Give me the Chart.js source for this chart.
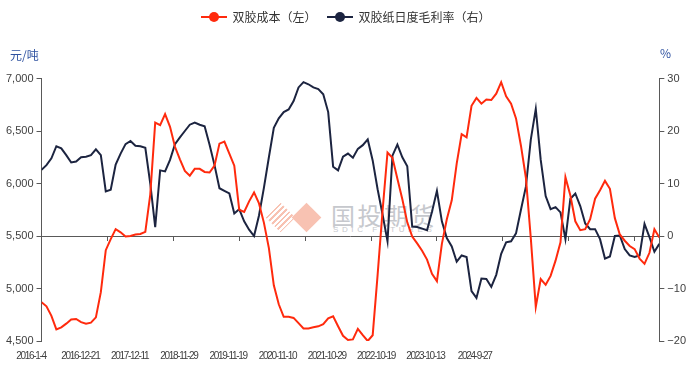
<!DOCTYPE html>
<html>
<head>
<meta charset="utf-8">
<script src="https://cdn.jsdelivr.net/npm/chart.js@4.4.1/dist/chart.umd.min.js"></script>
<style>
  html, body { margin: 0; padding: 0; background: #fff; }
  #wrap { position: relative; width: 695px; height: 369px; overflow: hidden; }
  #chart { position: absolute; left: 0; top: 0; }
  .unit { position: absolute; font: 12px "Noto Sans CJK SC", sans-serif; color: #2f52a0; }
  .wm { position: absolute; }
  .wm-stripe { left: 266px; top: 203px; width: 30px; height: 30px; }
  .wm-stripe i { position: absolute; left: 0; top: 0; width: 21px; height: 21px; transform: translate(4px, 4px) rotate(45deg);
    background: repeating-linear-gradient(90deg, #f8c2b2 0 2px, transparent 2px 4px); }
  .wm-dia { left: 292px; top: 203px; width: 30px; height: 30px; }
  .wm-dia i { position: absolute; left: 0; top: 0; width: 21px; height: 21px; transform: translate(4px, 4px) rotate(45deg); background: #f8c2b2; }
  .wm-cn { left: 331px; top: 197px; font: 24px "Noto Sans CJK SC", sans-serif; letter-spacing: 2.5px; color: #c6c8cd; }
  .wm-en { left: 333px; top: 225px; font: 8px "Liberation Sans", sans-serif; letter-spacing: 3.6px; color: #c6c8cd; }
</style>
</head>
<body>
<div id="wrap">
  <div class="wm wm-stripe"><i></i></div>
  <div class="wm wm-dia"><i></i></div>
  <div class="wm wm-cn">国投期货</div>
  <div class="wm wm-en">SDIC FUTURES</div>
  <canvas id="chart" width="695" height="369"></canvas>
  <div class="unit" style="left:10px; top:46px;">元/吨</div>
  <div class="unit" style="left:660px; top:44px;">%</div>
</div>
<script>
// trading-day step between samples
const STEP = 18;

const dateLabels = ['2016-1-4', '2016-12-21', '2017-12-11', '2018-11-29', '2019-11-19',
  '2020-11-10', '2021-10-29', '2022-10-19', '2023-10-13', '2024-9-27'];

// 双胶成本 (元/吨)
const cost = [
  4870, 4830, 4740, 4610, 4630, 4665, 4705, 4710, 4680, 4665,
  4675, 4725, 4965, 5365, 5470, 5565, 5535, 5495, 5500, 5515,
  5520, 5540, 5895, 6580, 6555, 6660, 6540, 6350, 6230, 6120,
  6075, 6140, 6140, 6110, 6105, 6170, 6380, 6400, 6285, 6170,
  5750, 5730, 5830, 5915, 5810, 5625, 5385, 5030, 4850, 4730,
  4730, 4720, 4670, 4620, 4620, 4630, 4640, 4660, 4715, 4735,
  4640, 4550, 4510, 4515, 4615, 4555, 4500, 4555, 5130, 5740,
  6295, 6245, 6045, 5850, 5630, 5495, 5430, 5360, 5275, 5140,
  5070, 5425, 5660, 5840, 6190, 6470, 6440, 6740, 6815, 6760,
  6800, 6795, 6855, 6965, 6830, 6760, 6620, 6360, 6055, 5475,
  4825, 5090, 5035, 5120, 5265, 5440, 6060, 5885, 5640, 5555,
  5565, 5660, 5855, 5935, 6025, 5950, 5670, 5515, 5455, 5405,
  5375, 5285, 5235, 5340, 5565, 5485
];

// 双胶纸日度毛利率 (%)
const margin = [
  12.6, 13.5, 14.8, 17.1, 16.7, 15.4, 14.0, 14.2, 15.0, 15.1,
  15.4, 16.5, 15.4, 8.5, 8.8, 13.6, 15.7, 17.5, 18.1, 17.2,
  17.1, 16.8, 10.0, 1.7, 12.5, 12.3, 14.5, 17.5, 18.8, 20.0,
  21.2, 21.6, 21.2, 20.9, 17.4, 13.5, 9.1, 8.6, 8.1, 4.3,
  5.1, 2.8, 1.2, 0.0, 3.9, 9.2, 15.0, 20.6, 22.4, 23.6,
  24.1, 25.7, 28.3, 29.3, 28.9, 28.3, 28.0, 27.0, 23.6, 13.2,
  12.5, 15.1, 15.7, 14.9, 16.6, 17.3, 18.4, 14.4, 8.9, 4.1,
  -1.0, 15.3, 17.4, 15.0, 13.3, 1.8, 1.7, 1.4, 1.1, 4.6,
  8.6, 2.8, -0.4, -2.0, -4.9, -3.7, -4.0, -10.5, -11.8, -8.1,
  -8.2, -9.7, -7.4, -3.4, -1.2, -1.0, 0.5, 5.0, 9.4, 18.4,
  24.2, 14.5, 7.6, 5.1, 5.5, 4.5, -0.6, 7.1, 8.1, 5.7,
  2.4, 1.3, 1.3, -0.6, -4.3, -3.9, 0.0, 0.1, -2.5, -3.7,
  -4.0, -3.7, 2.3, -0.2, -3.0, -1.5
];

const RED = '#ff2a0d';
const NAVY = '#1c2440';
const AXIS = '#595959';
const TICK_FONT = { family: 'Liberation Sans', size: 11 };

// date labels in the original are squeezed; tighten them if the canvas can
const canSqueeze = 'letterSpacing' in CanvasRenderingContext2D.prototype;
const DATE_FONT = { family: 'Liberation Sans', size: canSqueeze ? 10 : 7.5 };

const toPoints = (arr) => arr.map((v, i) => ({ x: i * STEP, y: v }));
const lastX = (cost.length - 1) * STEP;

// legend marker: line with a dot
function lineDot(color) {
  const c = document.createElement('canvas');
  c.width = 26; c.height = 12;
  const g = c.getContext('2d');
  g.strokeStyle = color; g.lineWidth = 2;
  g.beginPath(); g.moveTo(0, 6); g.lineTo(26, 6); g.stroke();
  g.fillStyle = color;
  g.beginPath(); g.arc(13, 6, 5, 0, Math.PI * 2); g.fill();
  return c;
}

// push plot area down below the legend
const legendGap = {
  id: 'legendGap',
  afterInit(chart) {
    const fit = chart.legend.fit;
    chart.legend.fit = function () {
      fit.call(this);
      this.height += 45.5;
    };
  }
};

// the date labels are drawn after the datasets (ticks.z = 1), so squeeze only them
const squeezeDates = {
  id: 'squeezeDates',
  afterDatasetsDraw(chart) {
    if (canSqueeze) chart.ctx.letterSpacing = '-1.3px';
  },
  afterDraw(chart) {
    if (canSqueeze) chart.ctx.letterSpacing = '0px';
  }
};

new Chart(document.getElementById('chart'), {
  type: 'line',
  data: {
    datasets: [
      {
        label: '双胶成本（左）',
        data: toPoints(cost),
        yAxisID: 'y',
        xAxisID: 'x',
        borderColor: RED,
        backgroundColor: RED,
        borderWidth: 2,
        pointRadius: 0,
        pointStyle: lineDot(RED),
        tension: 0
      },
      {
        label: '双胶纸日度毛利率（右）',
        data: toPoints(margin),
        yAxisID: 'y1',
        xAxisID: 'x',
        borderColor: NAVY,
        backgroundColor: NAVY,
        borderWidth: 2,
        pointRadius: 0,
        pointStyle: lineDot(NAVY),
        tension: 0
      }
    ]
  },
  options: {
    responsive: false,
    animation: false,
    devicePixelRatio: 1,
    layout: { padding: { left: 3, right: 6, top: 0, bottom: 6 } },
    plugins: {
      legend: {
        position: 'top',
        labels: {
          usePointStyle: true,
          pointStyleWidth: 25,
          padding: 11,
          color: '#333',
          font: { family: 'Noto Sans CJK SC', size: 12 }
        }
      },
      tooltip: { enabled: false }
    },
    scales: {
      x: {
        type: 'linear',
        min: 0,
        max: lastX,
        position: { y: 5500 },
        ticks: { display: false, stepSize: 240, includeBounds: false },
        grid: { drawOnChartArea: false, drawTicks: true, tickLength: 4, color: AXIS },
        border: { color: AXIS, width: 1 }
      },
      xl: {
        type: 'linear',
        position: 'bottom',
        min: 0,
        max: 12.535,
        grid: { display: false, drawTicks: false },
        border: { display: false },
        afterFit: (s) => { s.height = 22; },
        ticks: {
          z: 1,
          stepSize: 1,
          includeBounds: false,
          autoSkip: false,
          maxRotation: 0,
          padding: 9,
          labelOffset: -10.5,
          color: '#404040',
          font: DATE_FONT,
          callback: (v) => (Number.isInteger(v) && dateLabels[v]) ? dateLabels[v] : ''
        }
      },
      y: {
        position: 'left',
        min: 4500,
        max: 7000,
        ticks: {
          stepSize: 500,
          padding: 3,
          color: '#404040',
          font: TICK_FONT,
          callback: (v) => v.toLocaleString('en-US')
        },
        grid: { drawOnChartArea: false, tickLength: 5, color: AXIS },
        border: { color: AXIS, width: 1 }
      },
      y1: {
        position: 'right',
        min: -20,
        max: 30,
        ticks: {
          stepSize: 10,
          padding: 3,
          color: '#404040',
          font: TICK_FONT,
          callback: (v) => v < 0 ? '\u2212' + Math.abs(v) : String(v)
        },
        grid: { drawOnChartArea: false, tickLength: 5, color: AXIS },
        border: { color: AXIS, width: 1 }
      }
    }
  },
  plugins: [legendGap, squeezeDates]
});
</script>
</body>
</html>
